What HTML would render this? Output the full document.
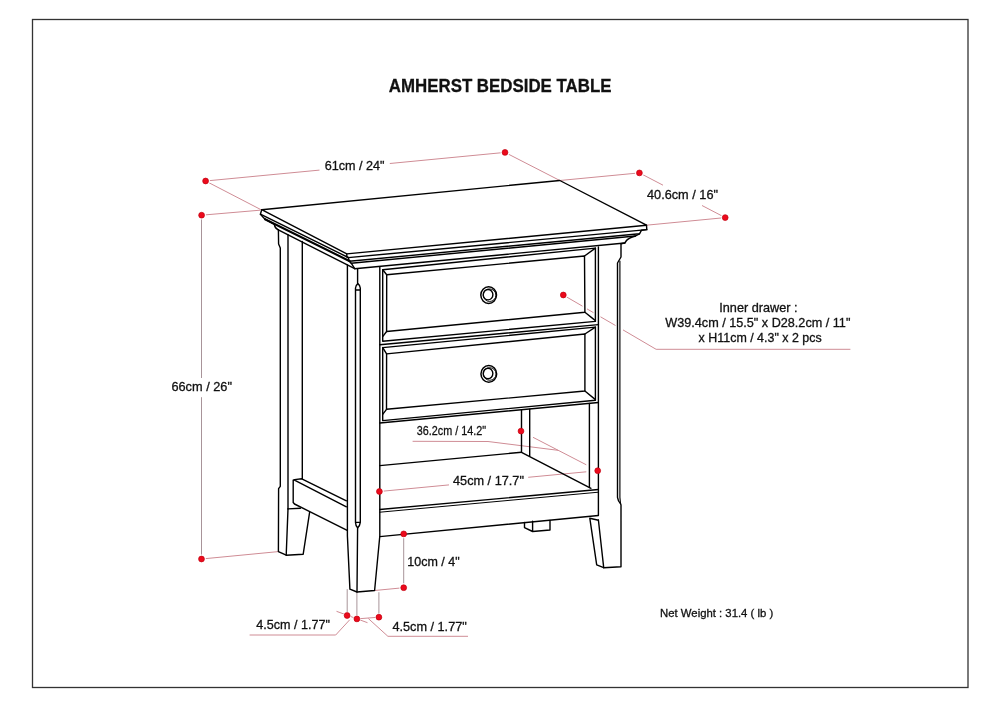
<!DOCTYPE html>
<html><head><meta charset="utf-8"><style>
html,body{margin:0;padding:0;background:#fff;width:1000px;height:707px;overflow:hidden}
svg{display:block;will-change:transform}
text{font-family:"Liberation Sans",sans-serif;fill:#111;stroke:#111;stroke-width:0.3}
.k{fill:none;stroke:#000;stroke-width:1.4;stroke-linejoin:round;stroke-linecap:round}
.t{fill:none;stroke:#000;stroke-width:1}
.r{fill:none;stroke:#cf8c95;stroke-width:1}
.d{fill:#ec0a1c;stroke:#c2000e;stroke-width:0.7}
</style></head><body>
<svg width="1000" height="707" viewBox="0 0 1000 707">
<rect x="32.5" y="19.5" width="935.5" height="668" fill="none" stroke="#333" stroke-width="1.3"/>
<text x="388.8" y="91.6" font-size="19.2" font-weight="bold" textLength="222.7" lengthAdjust="spacingAndGlyphs">AMHERST BEDSIDE TABLE</text>

<!-- ===== PINK DIMENSION LINES ===== -->
<defs><mask id="m" maskUnits="userSpaceOnUse" x="0" y="0" width="1000" height="707"><rect width="1000" height="707" fill="#fff"/><circle cx="205.6" cy="181" r="4.4" fill="#000"/><circle cx="201.6" cy="215.2" r="4.4" fill="#000"/><circle cx="505" cy="152.4" r="4.4" fill="#000"/><circle cx="639.4" cy="172.9" r="4.4" fill="#000"/><circle cx="725.2" cy="217.6" r="4.4" fill="#000"/><circle cx="563.3" cy="295" r="4.4" fill="#000"/><circle cx="521" cy="431.1" r="4.4" fill="#000"/><circle cx="597.7" cy="470.7" r="4.4" fill="#000"/><circle cx="379.4" cy="491.5" r="4.4" fill="#000"/><circle cx="403.7" cy="533.9" r="4.4" fill="#000"/><circle cx="403.7" cy="587.7" r="4.4" fill="#000"/><circle cx="201.5" cy="559" r="4.4" fill="#000"/><circle cx="347.1" cy="615.5" r="3.6" fill="#000"/><circle cx="356.9" cy="618.9" r="3.6" fill="#000"/><circle cx="378.9" cy="617.2" r="3.6" fill="#000"/></mask></defs>
<g class="r" mask="url(#m)">
<line x1="205.6" y1="181" x2="319.5" y2="170.1"/>
<line x1="389.8" y1="163.5" x2="505" y2="152.4"/>
<line x1="205.6" y1="181" x2="261.4" y2="209.9"/>
<line x1="201.6" y1="215.2" x2="260" y2="210.2"/>
<line x1="505" y1="152.4" x2="559.8" y2="180.5"/>
<line x1="639.4" y1="172.9" x2="559.8" y2="180.5"/>
<line x1="639.4" y1="172.9" x2="663" y2="185.2"/>
<line x1="702" y1="205.5" x2="725.2" y2="217.6"/>
<line x1="725.2" y1="217.6" x2="646.5" y2="225.2"/>
<line x1="201.5" y1="215.2" x2="201.5" y2="378" stroke="#a89499"/>
<line x1="201.5" y1="397.2" x2="201.5" y2="559" stroke="#a89499"/>
<line x1="201.5" y1="559" x2="278.4" y2="551.6"/>
<path d="M566,296.6 L582.5,306.2 M587,308.9 L593.5,312.7 M600.5,316.8 L615.5,325.5 M623,329.9 L656.1,349.3"/>
<line x1="656.1" y1="349.3" x2="850.4" y2="349.3"/>
<line x1="533" y1="437.3" x2="586.3" y2="464.8"/>
<polyline points="412.6,441.3 488,441.5 558,450.3"/>
<line x1="379.4" y1="491.5" x2="449" y2="484.9"/>
<line x1="528.2" y1="477.3" x2="586.3" y2="471.8"/>
<line x1="403.7" y1="533.9" x2="403.7" y2="587.7" stroke="#a89499"/>
<line x1="403.7" y1="587.7" x2="374.6" y2="590.5"/>
<line x1="347.2" y1="589.2" x2="347.2" y2="615.5" stroke="#a89499"/>
<line x1="356.9" y1="592.6" x2="356.9" y2="618.9" stroke="#a89499"/>
<line x1="378.9" y1="592.2" x2="378.9" y2="617.2" stroke="#a89499"/>
<line x1="336.5" y1="611.3" x2="367.5" y2="622.7"/>
<line x1="356.9" y1="618.9" x2="378.9" y2="617.2"/>
<polyline points="349.7,619.8 335.7,635 249.6,635"/>
<polyline points="368.3,618.5 387.9,636.3 468,636.3"/>
</g>

<!-- ===== TABLE (black) ===== -->
<g class="k">
<!-- top surface -->
<polygon points="261.7,209.7 559.8,180.5 646.5,225.2 346.8,253.9"/>
<!-- front molding lines -->
<polyline points="346.8,253.9 346.8,256.9 348.3,257.6 646.8,229.6 646.5,225.2"/>
<polyline points="348.3,257.6 349.3,261.3 639.5,233.8 641.4,230.3 646.8,229.6"/>
<polyline points="349.3,261.3 351.2,263.2 635.5,236 639.5,233.8"/>
<polyline points="351.2,263.2 354.7,268.7 624.8,243"/>
<path d="M635.5,236 C632,237 628,238.5 626.5,240.5 L624.8,243 L621,243.7"/>
<!-- left side molding lines -->
<path d="M261.7,209.7 L260.4,214.2 L265,219.2 L274.3,224.3 C274.6,226.5 275.5,228.5 278.3,229.8"/>
<line x1="260.4" y1="214.2" x2="348.3" y2="257.5"/>
<line x1="265" y1="219.2" x2="349.8" y2="261.2" stroke-width="2.1"/>

<line x1="278.3" y1="229.8" x2="354.7" y2="268.7"/>

<!-- back-left leg -->
<path d="M278.4,229.8 L278.6,244 L280.3,248 L280.3,486.3 L278.6,488.7 L278.4,551.6 L286.2,555.2 L303.2,554.2 L309.6,512.4"/>
<line x1="288" y1="234.7" x2="288" y2="508.9"/>
<line x1="288" y1="508.9" x2="286.2" y2="555.2"/>
<line x1="302.3" y1="241.4" x2="302.3" y2="478.8"/>
<line x1="288" y1="508.9" x2="300.4" y2="508.2"/>
<!-- left side rail -->
<path d="M301.8,478.8 L346.4,500.8 M293.2,480.2 L293.2,502.5 M294,479.9 L346.4,506.8 M293.2,480.2 L294.5,479.6 L301.8,478.8 M293.2,502.5 L294.5,504 L347.2,530.4"/>

<!-- front-left leg -->
<polyline points="347.4,265 347.4,536 349.9,589.1 357,592 374.6,590.5 379.8,536 379.8,266.8"/>
<line x1="357.6" y1="269" x2="357.6" y2="283.6"/>
<path d="M357.9,283.6 Q355.7,285.3 355.5,288 L355.5,522.4 Q355.6,525.5 357.6,527.9 Q360,525.5 360.3,522.4 L360.3,288 Q360.1,285.3 357.9,283.6 Z M355.5,290 L360.3,290 M355.5,522.4 L360.3,522.4"/>
<line x1="357.6" y1="527.9" x2="357" y2="592"/>

<!-- right stile / front-right leg -->
<line x1="598.4" y1="247" x2="598.4" y2="515.2"/>
<path d="M621,243.7 L621,257 L617.5,263 L617.5,497.4 Q618.1,501.5 620.5,503.6 L621,505 L621,566.7 L603.7,567.7 L596.7,564.8 L589.8,518.2 L598.4,520.2"/>
<path d="M619.9,261 L619.9,497.4 L620.5,503.6" stroke-width="1.15"/>
<line x1="598.4" y1="520" x2="603.7" y2="567.7"/>

<!-- drawer frame outer right inner -->
<!-- drawer 1 -->
<polygon points="382.7,269.8 595.4,248.1 595.4,321.4 382.7,341.2"/>
<polygon points="386.7,274.8 584.5,256 584.9,312.3 386.6,331.5"/>
<line x1="382.7" y1="269.8" x2="386.7" y2="274.8"/>
<line x1="595.4" y1="248.1" x2="584.5" y2="256"/>
<line x1="595.4" y1="320.6" x2="584.9" y2="312.3"/>
<line x1="382.7" y1="336.6" x2="386.6" y2="331.5"/>
<!-- middle rail -->
<line x1="379.8" y1="344.8" x2="598.4" y2="324.6"/>
<!-- drawer 2 -->
<polygon points="382.7,347.6 595.4,327.1 595.4,400.2 382.7,420.6"/>
<polygon points="386.6,353.9 584.9,334 584.9,391 386.5,409.3"/>
<line x1="382.7" y1="347.6" x2="386.6" y2="353.9"/>
<line x1="595.4" y1="327.1" x2="584.9" y2="334"/>
<line x1="595.4" y1="399.6" x2="584.9" y2="391"/>
<line x1="382.7" y1="414.4" x2="386.5" y2="409.3"/>
<!-- opening top rail -->
<line x1="379.8" y1="423" x2="598.4" y2="402.5"/>

<!-- shelf / opening -->
<line x1="521.5" y1="409.9" x2="521.5" y2="452.3"/>
<line x1="529.7" y1="409.2" x2="529.7" y2="455.9"/>
<line x1="589.4" y1="403.5" x2="589.4" y2="487.5"/>
<line x1="379.8" y1="465.6" x2="521.5" y2="452.3"/>
<line x1="521.5" y1="452.3" x2="591" y2="488.3"/>
<line x1="379.8" y1="509.5" x2="598.4" y2="489.5"/>
<line x1="379.8" y1="512.2" x2="598.4" y2="492.2" class="t"/>
<line x1="379.8" y1="536.6" x2="598.4" y2="515.5"/>
<!-- back-right foot -->
<path d="M524.5,522.5 L524.5,527.6 L532.6,531.5 L550,530 L550,520.4 M532.6,521.3 L532.6,531.5"/>
</g>

<!-- knobs -->
<g fill="none" stroke="#000">
<ellipse cx="488.65" cy="295.1" rx="7.85" ry="8.3" stroke-width="1.5"/>
<circle cx="489.6" cy="295.2" r="6.3" stroke-width="0.9"/>
<ellipse cx="488.05" cy="294.7" rx="4.85" ry="5.2" stroke-width="1.4"/>
<ellipse cx="488.8" cy="373.9" rx="7.85" ry="8.3" stroke-width="1.5"/>
<circle cx="489.75" cy="374" r="6.3" stroke-width="0.9"/>
<ellipse cx="488" cy="373.5" rx="4.85" ry="5.2" stroke-width="1.4"/>
</g>

<!-- red dots -->
<g class="d">
<circle cx="205.6" cy="181" r="2.9"/>
<circle cx="201.6" cy="215.2" r="2.9"/>
<circle cx="505" cy="152.4" r="2.9"/>
<circle cx="639.4" cy="172.9" r="2.9"/>
<circle cx="725.2" cy="217.6" r="2.9"/>
<circle cx="563.3" cy="295" r="2.9"/>
<circle cx="521" cy="431.1" r="2.9"/>
<circle cx="597.7" cy="470.7" r="2.9"/>
<circle cx="379.4" cy="491.5" r="2.9"/>
<circle cx="403.7" cy="533.9" r="2.9"/>
<circle cx="403.7" cy="587.7" r="2.9"/>
<circle cx="201.5" cy="559" r="2.9"/>
<circle cx="347.1" cy="615.5" r="2.9"/>
<circle cx="356.9" cy="618.9" r="2.9"/>
<circle cx="378.9" cy="617.2" r="2.9"/>
</g>

<!-- labels -->
<g font-size="12.6">
<text x="324.7" y="169.8" textLength="59.9" lengthAdjust="spacingAndGlyphs">61cm / 24"</text>
<text x="647" y="198.6" textLength="71" lengthAdjust="spacingAndGlyphs">40.6cm / 16"</text>
<text x="171.4" y="391" textLength="60.6" lengthAdjust="spacingAndGlyphs">66cm / 26"</text>
<text x="407.3" y="565.6" textLength="52.3" lengthAdjust="spacingAndGlyphs">10cm / 4"</text>
<text x="416.8" y="435.3" font-size="13.1" textLength="69.3" lengthAdjust="spacingAndGlyphs">36.2cm / 14.2"</text>
<text x="453" y="484.7" textLength="70.9" lengthAdjust="spacingAndGlyphs">45cm / 17.7"</text>
<text x="256.3" y="629.2" textLength="73.7" lengthAdjust="spacingAndGlyphs">4.5cm / 1.77"</text>
<text x="392.4" y="630.9" textLength="74.4" lengthAdjust="spacingAndGlyphs">4.5cm / 1.77"</text>
<text x="719.3" y="312.3" textLength="78.2" lengthAdjust="spacingAndGlyphs">Inner drawer :</text>
<text x="665.3" y="327.3" textLength="185.1" lengthAdjust="spacingAndGlyphs">W39.4cm / 15.5" x D28.2cm / 11"</text>
<text x="698.6" y="342.4" textLength="123.1" lengthAdjust="spacingAndGlyphs">x H11cm / 4.3" x 2 pcs</text>
<text x="660.1" y="617.4" font-size="11.4" textLength="113.1" lengthAdjust="spacingAndGlyphs">Net Weight : 31.4 ( lb )</text>
</g>
</svg>
</body></html>
